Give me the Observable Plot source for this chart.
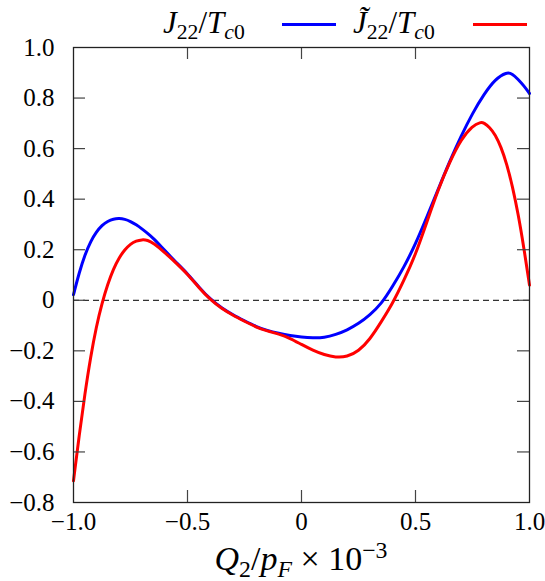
<!DOCTYPE html>
<html><head><meta charset="utf-8">
<script src="https://cdn.jsdelivr.net/npm/d3@7"></script>
<script src="https://cdn.jsdelivr.net/npm/@observablehq/plot@0.6"></script>
<style>
body{margin:0;background:#fff;}
#chart{position:relative;width:545px;height:581px;font-family:"Liberation Serif","DejaVu Serif","Noto Serif",serif;color:#000;}
#chart svg{position:absolute;left:0;top:0;}
.lab{position:absolute;white-space:nowrap;line-height:1;}
.sub{font-size:0.7em;position:relative;top:0.28em;font-style:normal;}
.sup{font-size:0.7em;position:relative;top:-0.5em;}
.sw{position:absolute;height:3px;}
</style></head><body><div id="chart"></div>
<script>
// J22/Tc0 (blue)
const qBlue = [-1, -0.975, -0.95, -0.925, -0.9, -0.875, -0.85, -0.825, -0.8, -0.775, -0.75, -0.725, -0.7, -0.675, -0.65, -0.6, -0.55, -0.5, -0.45, -0.4, -0.35, -0.3, -0.25, -0.2, -0.15, -0.1, -0.05, 0, 0.05, 0.1, 0.15, 0.2, 0.25, 0.3, 0.35, 0.4, 0.45, 0.5, 0.55, 0.6, 0.65, 0.7, 0.75, 0.8, 0.85, 0.9, 0.925, 0.95, 0.975, 1];
const jBlue = [0.022, 0.11, 0.18, 0.233, 0.27, 0.297, 0.313, 0.322, 0.324, 0.321, 0.312, 0.299, 0.283, 0.265, 0.246, 0.197, 0.15, 0.106, 0.052, 0.004, -0.031, -0.058, -0.081, -0.104, -0.12, -0.131, -0.14, -0.146, -0.149, -0.148, -0.136, -0.118, -0.093, -0.058, -0.015, 0.055, 0.132, 0.222, 0.33, 0.44, 0.55, 0.65, 0.74, 0.815, 0.875, 0.903, 0.896, 0.874, 0.849, 0.818];
// J~22/Tc0 (red)
const qRed = [-1, -0.975, -0.95, -0.925, -0.9, -0.875, -0.85, -0.825, -0.8, -0.775, -0.75, -0.725, -0.7, -0.675, -0.65, -0.6, -0.55, -0.5, -0.45, -0.4, -0.35, -0.3, -0.25, -0.2, -0.15, -0.1, -0.05, 0, 0.05, 0.1, 0.15, 0.2, 0.25, 0.3, 0.35, 0.4, 0.45, 0.5, 0.55, 0.6, 0.65, 0.7, 0.75, 0.785, 0.8, 0.825, 0.85, 0.875, 0.9, 0.925, 0.95, 0.975, 1];
const jRed = [-0.714, -0.534, -0.369, -0.224, -0.104, -0.011, 0.064, 0.124, 0.169, 0.2, 0.223, 0.235, 0.24, 0.238, 0.227, 0.19, 0.147, 0.104, 0.05, 0.002, -0.033, -0.06, -0.083, -0.106, -0.122, -0.133, -0.15, -0.175, -0.198, -0.216, -0.226, -0.224, -0.202, -0.155, -0.085, -0.012, 0.08, 0.18, 0.31, 0.44, 0.547, 0.637, 0.69, 0.705, 0.702, 0.685, 0.655, 0.607, 0.54, 0.452, 0.343, 0.21, 0.06];

const xTicks = [-1, -0.5, 0, 0.5, 1];
const xTickLabels = ["−1.0", "−0.5", "0", "0.5", "1.0"];
const yTicks = [1, 0.8, 0.6, 0.4, 0.2, 0, -0.2, -0.4, -0.6, -0.8];
const yTickLabels = ["1.0", "0.8", "0.6", "0.4", "0.2", "0", "−0.2", "−0.4", "−0.6", "−0.8"];

const blue = qBlue.map((q, i) => ({q, v: jBlue[i]}));
const red = qRed.map((q, i) => ({q, v: jRed[i]}));

const W = 545, H = 581, mL = 73, mR = 16, mT = 47, mB = 79;
const pw = W - mL - mR, ph = H - mT - mB, tk = 12;
const FONT = "'Liberation Serif', 'DejaVu Serif', 'Noto Serif', serif";

const chart = Plot.plot({
  width: W, height: H,
  marginLeft: mL, marginRight: mR, marginTop: mT, marginBottom: mB,
  x: {domain: [-1, 1]},
  y: {domain: [-0.8, 1]},
  style: {fontFamily: FONT, fontSize: "25px", color: "#000", background: "#fff"},
  marks: [
    Plot.ruleY([0], {stroke: "#333", strokeWidth: 1.2, strokeDasharray: "6,4"}),
    Plot.line(blue, {x: "q", y: "v", stroke: "#0000ff", strokeWidth: 3, curve: "basis"}),
    Plot.line(red, {x: "q", y: "v", stroke: "#ff0000", strokeWidth: 3, curve: "basis"}),
    Plot.tickY(yTicks.slice(1, -1), {y: d => d, stroke: "#444", strokeWidth: 1.2, insetRight: pw - tk}),
    Plot.tickY(yTicks.slice(1, -1), {y: d => d, stroke: "#444", strokeWidth: 1.2, insetLeft: pw - tk}),
    Plot.tickX(xTicks.slice(1, -1), {x: d => d, stroke: "#444", strokeWidth: 1.2, insetTop: ph - tk}),
    Plot.tickX(xTicks.slice(1, -1), {x: d => d, stroke: "#444", strokeWidth: 1.2, insetBottom: ph - tk}),
    Plot.axisX({ticks: xTicks, tickSize: 0, tickPadding: 10, label: null, anchor: "bottom",
      tickFormat: d => xTickLabels[xTicks.indexOf(d)]}),
    Plot.axisY({ticks: yTicks, tickSize: 0, tickPadding: 19, label: null, anchor: "left",
      tickFormat: d => yTickLabels[yTicks.indexOf(d)]}),
    Plot.frame({stroke: "#222", strokeWidth: 1.3})
  ]
});
const root = document.getElementById("chart");
root.appendChild(chart);

function addHTML(html, style, cls) {
  const d = document.createElement("div");
  d.className = cls;
  d.setAttribute("style", style);
  d.innerHTML = html;
  root.appendChild(d);
  return d;
}
// legend
addHTML('<i>J</i><span class="sub">22</span>/<i>T</i><span class="sub"><i>c</i>0</span>', 'left:163px;top:7px;font-size:31px;', 'lab');
addHTML('', 'left:282px;top:23px;width:54px;background:#0000ff;', 'sw');
addHTML('<i>J&#771;</i><span class="sub">22</span>/<i>T</i><span class="sub"><i>c</i>0</span>', 'left:353px;top:7px;font-size:31px;', 'lab');
addHTML('', 'left:473px;top:23px;width:54px;background:#ff0000;', 'sw');
// x label
addHTML('<i>Q</i><span class="sub">2</span>/<i>p</i><span class="sub"><i>F</i></span> × 10<span class="sup">−3</span>', 'left:73px;width:456px;text-align:center;top:542px;font-size:34px;', 'lab');
</script>
</body></html>
